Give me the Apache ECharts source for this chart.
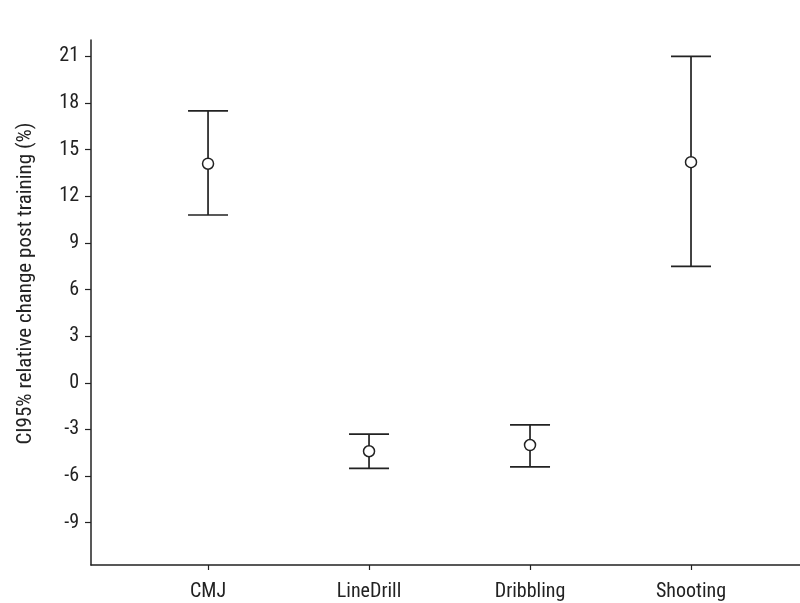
<!DOCTYPE html>
<html>
<head>
<meta charset="utf-8">
<script src="https://cdn.jsdelivr.net/npm/echarts@6/dist/echarts.min.js"></script>
<style>html,body{margin:0;padding:0;background:#fff}#c{width:800px;height:603px}</style>
</head>
<body>
<div id="c"></div>
<script>
var categories = ['CMJ', 'LineDrill', 'Dribbling', 'Shooting'];
var means = [14.1, -4.4, -4.0, 14.2];
var lower = [10.8, -5.5, -5.4, 7.5];
var upper = [17.5, -3.3, -2.7, 21.0];
var yTicks = [-9, -6, -3, 0, 3, 6, 9, 12, 15, 18, 21];
var xPositions = [1, 2, 3, 4];

var FONT = '"Liberation Sans Narrow", "Arial Narrow", "Roboto Condensed", "Liberation Sans", sans-serif';
var INK = '#222';

var chart = echarts.init(document.getElementById('c'), null, {renderer: 'canvas'});

var errData = categories.map(function (c, i) { return [xPositions[i], lower[i], upper[i]]; });
var meanData = categories.map(function (c, i) { return [xPositions[i], means[i]]; });

chart.setOption({
  animation: false,
  backgroundColor: '#fff',
  grid: {left: 91, right: 0, top: 40, bottom: 38, containLabel: false},
  xAxis: {
    type: 'value',
    min: 0.273,
    max: 4.677,
    splitLine: {show: false},
    axisLine: {show: true, onZero: false, lineStyle: {color: INK, width: 1.5}},
    axisTick: {show: true, length: 5, lineStyle: {color: INK, width: 1.2}, customValues: xPositions},
    axisLabel: {
      color: INK, fontFamily: FONT, fontSize: 20, margin: 17,
      customValues: xPositions,
      formatter: function (v) { var i = xPositions.indexOf(Math.round(v)); return i >= 0 ? categories[i] : ''; }
    }
  },
  yAxis: {
    type: 'value',
    min: -11.72,
    max: 22.06,
    name: 'CI95% relative change post training (%)',
    nameLocation: 'middle',
    nameGap: 55,
    nameTextStyle: {color: INK, fontFamily: FONT, fontSize: 21, padding: [0, 0, 0, 38]},
    splitLine: {show: false},
    axisLine: {show: true, lineStyle: {color: INK, width: 1.5}},
    axisTick: {show: true, length: 6, lineStyle: {color: INK, width: 1.2}, customValues: yTicks},
    axisLabel: {color: INK, fontFamily: FONT, fontSize: 20, margin: 12, customValues: yTicks}
  },
  series: [
    {
      type: 'custom',
      data: errData,
      renderItem: function (params, api) {
        var x = api.value(0);
        var lo = api.coord([x, api.value(1)]);
        var hi = api.coord([x, api.value(2)]);
        var hw = 20;
        var st = {stroke: INK, lineWidth: 1.7};
        return {
          type: 'group',
          children: [
            {type: 'line', shape: {x1: lo[0], y1: lo[1], x2: hi[0], y2: hi[1]}, style: st},
            {type: 'line', shape: {x1: hi[0] - hw, y1: hi[1], x2: hi[0] + hw, y2: hi[1]}, style: st},
            {type: 'line', shape: {x1: lo[0] - hw, y1: lo[1], x2: lo[0] + hw, y2: lo[1]}, style: st}
          ]
        };
      },
      z: 2
    },
    {
      type: 'scatter',
      data: meanData,
      symbol: 'circle',
      symbolSize: 11,
      itemStyle: {color: '#fff', borderColor: INK, borderWidth: 1.5, opacity: 1},
      z: 3
    }
  ]
});
</script>
</body>
</html>
